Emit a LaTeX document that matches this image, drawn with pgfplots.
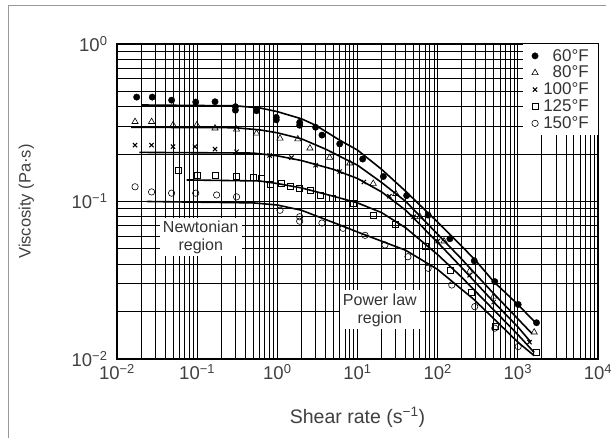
\documentclass[border=0pt]{standalone}
\usepackage{fontspec}
\setmainfont{Liberation Sans}
\usepackage{pgfplots}
\pgfplotsset{compat=1.18}
\begin{document}
\begin{tikzpicture}
\useasboundingbox (-117pt,-79pt) rectangle ++(612pt,438pt);
\fill[white] (-117pt,-79pt) rectangle ++(612pt,438pt);
\draw[black!40, line width=1pt] (-108pt,-79pt) -- (-108pt,353pt) -- (489pt,353pt);
\begin{loglogaxis}[
  at={(0,0)}, anchor=south west,
  scale only axis, width=481pt, height=315pt,
  xmin=1e-2, xmax=1e4, ymin=1e-2, ymax=1,
  axis line style={line width=2.8pt},
  grid=both,
  major grid style={black, line width=1.2pt},
  minor grid style={black, line width=1pt},
  tick style={draw=none},
  xtick={1e-2,1e-1,1,10,100,1000,10000},
  xticklabels={10\textsuperscript{−2},10\textsuperscript{−1},10\textsuperscript{0},10\textsuperscript{1},10\textsuperscript{2},10\textsuperscript{3},10\textsuperscript{4}},
  ytick={1e-2,1e-1,1},
  yticklabels={10\textsuperscript{−2},10\textsuperscript{−1},10\textsuperscript{0}},
  ticklabel style={font=\fontsize{18.5}{18.5}\selectfont, text=black!75},
  xticklabel style={yshift=-2pt},
  yticklabel style={xshift=-6pt},
  xlabel={Shear rate (s\textsuperscript{−1})},
  ylabel={Viscosity (Pa·s)},
  xlabel style={font=\fontsize{19.5}{19.5}\selectfont, text=black!75, at={(axis description cs:0.5,-0.14)}, anchor=north},
  ylabel style={font=\fontsize{16.5}{16.5}\selectfont, text=black!75, at={(axis description cs:-0.165,0.5)}, anchor=south},
  legend style={at={(1,1)}, anchor=north east, draw=none, fill=white,
    font=\fontsize{17}{17}\selectfont, text=black!80, inner xsep=9pt, inner ysep=5pt,
    row sep=3.5pt, nodes={inner sep=0pt},
    /tikz/every odd column/.append style={column sep=5pt}},
  legend cell align=right,
]
% fitted curves
\addplot[black, line width=1.6pt, forget plot] coordinates {(0.02,0.41)(0.3,0.405)(0.6,0.393)(1,0.372)(2,0.335)(3,0.305)(6,0.245)(10,0.212)(20,0.16)(40,0.116)(70,0.088)(100,0.074)(200,0.052)(300,0.042)(500,0.031)(1000,0.0222)(1700,0.0168)};
\addplot[black, line width=1.6pt, forget plot] coordinates {(0.015,0.296)(0.3,0.294)(0.6,0.285)(1,0.273)(2,0.25)(4,0.215)(10,0.17)(20,0.132)(40,0.1)(100,0.062)(200,0.043)(500,0.026)(1000,0.018)(1500,0.0145)};
\addplot[black, line width=1.6pt, forget plot] coordinates {(0.019,0.205)(0.5,0.203)(1,0.195)(2,0.182)(5,0.16)(10,0.14)(20,0.115)(40,0.088)(100,0.055)(200,0.038)(500,0.023)(1000,0.016)(1450,0.0128)};
\addplot[black, line width=1.6pt, forget plot] coordinates {(0.074,0.137)(0.6,0.135)(1,0.13)(2,0.122)(5,0.108)(10,0.098)(20,0.085)(40,0.068)(100,0.046)(200,0.033)(500,0.0205)(1000,0.0143)(1600,0.011)};
\addplot[black, line width=1.6pt, forget plot] coordinates {(0.024,0.1)(0.5,0.098)(1,0.095)(2,0.088)(6,0.071)(10,0.064)(40,0.049)(100,0.037)(280,0.024)(600,0.0165)(1000,0.0128)(1600,0.0105)};
% data
\addplot[only marks, mark=*, mark size=3.2pt, black] coordinates {(0.0176,0.46)(0.0275,0.46)(0.048,0.44)(0.096,0.428)(0.167,0.43)(0.30,0.40)(0.30,0.38)(0.55,0.377)(0.97,0.342)(0.97,0.33)(1.9,0.318)(1.9,0.305)(3.0,0.296)(3.6,0.264)(6.0,0.232)(11.6,0.186)(21,0.144)(41,0.109)(76,0.082)(142,0.058)(286,0.042)(516,0.031)(1010,0.0222)(1710,0.017)};
\addlegendentry{60°F}
\addplot[only marks, mark=triangle, mark size=3.6pt, black, line width=0.6pt] coordinates {(0.0168,0.321)(0.027,0.321)(0.05,0.306)(0.099,0.306)(0.167,0.292)(0.31,0.287)(0.55,0.271)(1.08,0.252)(1.8,0.249)(2.55,0.218)(4.5,0.19)(8,0.175)(15.7,0.13)(30,0.112)(60,0.08)(120,0.056)(250,0.036)(500,0.025)(1600,0.0148)};
\addlegendentry{80°F}
\addplot[only marks, mark=x, mark size=3pt, black, line width=1pt] coordinates {(0.0168,0.228)(0.027,0.228)(0.05,0.223)(0.094,0.223)(0.167,0.215)(0.31,0.207)(0.8,0.196)(1.5,0.19)(3,0.17)(6,0.155)(12,0.133)(25,0.108)(50,0.08)(100,0.056)(250,0.034)(500,0.023)(1400,0.0128)};
\addlegendentry{100°F}
\addplot[only marks, mark=square, mark size=3pt, black, line width=0.6pt] coordinates {(0.059,0.157)(0.099,0.147)(0.167,0.146)(0.31,0.145)(0.5,0.142)(0.64,0.14)(0.81,0.129)(1.13,0.13)(1.44,0.125)(1.9,0.122)(2.55,0.118)(3.4,0.11)(4.9,0.105)(8.9,0.0974)(15.7,0.082)(30,0.072)(70,0.052)(142,0.0367)(263,0.0267)(516,0.0162)(1720,0.0111)};
\addlegendentry{125°F}
\addplot[only marks, mark=o, mark size=3.2pt, black, line width=0.6pt] coordinates {(0.0168,0.124)(0.027,0.115)(0.048,0.113)(0.096,0.113)(0.175,0.11)(0.31,0.107)(1.08,0.088)(1.9,0.08)(1.9,0.075)(3.6,0.073)(6.6,0.0676)(12.4,0.061)(22,0.053)(42.6,0.0446)(76,0.0377)(150,0.0295)(290,0.0215)(516,0.0157)(1010,0.012)};
\addlegendentry{150°F}
\node[fill=white, align=center, inner sep=3pt, font=\fontsize{16}{18}\selectfont, text=black!80] at (axis cs:0.111,0.0595) {Newtonian\\region};
\node[fill=white, align=center, inner sep=3pt, font=\fontsize{16}{18}\selectfont, text=black!80] at (axis cs:19,0.0205) {Power law\\region};
\end{loglogaxis}
\end{tikzpicture}
\end{document}
